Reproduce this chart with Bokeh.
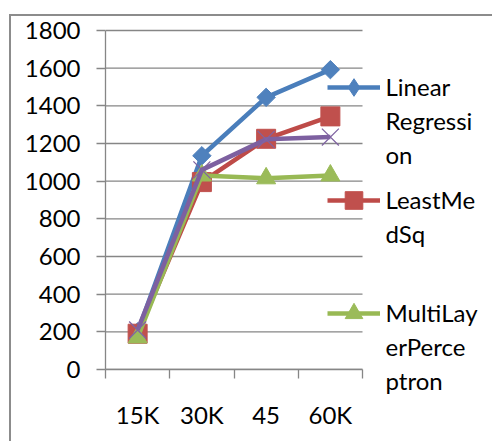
import math
from bokeh.plotting import figure
from bokeh.models import (FixedTicker, Legend, LegendItem, LinearAxis, Range1d)
from bokeh.core.properties import value
from bokeh.embed import file_html
from bokeh.resources import INLINE

# ---- data ----
categories = ["15K", "30K", "45", "60K"]
linear_regression = [200, 1135, 1445, 1592]
least_med_sq = [190, 995, 1225, 1344]
multilayer_perceptron = [170, 1030, 1015, 1030]
fourth_series = [210, 1060, 1222, 1234]
y_ticks = [0, 200, 400, 600, 800, 1000, 1200, 1400, 1600, 1800]
legend_names = ["Linear\nRegressi\non", "LeastMe\ndSq", "MultiLay\nerPerce\nptron"]

FONT = "Lato"
FS = "24px"
GRID = "#868686"
TXT = "#000000"

# page geometry (pixels in the 494x443 window)
OX, OY = 11, 16                 # canvas offset caused by the chart-area border
FW, FH = 494 - OX, 443 - OY     # figure size
CAT_L, CAT_R = 105, 362         # category axis extent on the page
Y0, Y1800 = 369, 30             # page y of 0 and 1800
FRAME_R, FRAME_T = 381, 26      # frame extends a bit so the legend is not clipped
YMAX = 1800

ppu_x = (CAT_R - CAT_L) / len(categories)
ppu_y = (Y0 - Y1800) / YMAX

def page_y(py):
    return (Y0 - py) / ppu_y

x = [i + 0.5 for i in range(len(categories))]

p = figure(width=FW, height=FH, output_backend="svg", toolbar_location=None,
           x_range=Range1d(0, (FRAME_R - CAT_L) / ppu_x),
           y_range=Range1d(0, page_y(FRAME_T)),
           min_border_left=CAT_L - OX, min_border_right=494 - FRAME_R,
           min_border_top=FRAME_T - OY, min_border_bottom=443 - Y0)
p.styles = {"margin-left": "9px", "margin-top": "14px",
            "border-left": "2px solid #8c8c8c", "border-top": "2px solid #8c8c8c"}
p.outline_line_color = None
p.background_fill_color = "white"
p.border_fill_color = "white"

# horizontal gridlines, limited to the category extent
p.xgrid.visible = False
p.ygrid.visible = False
p.segment(x0=[0] * len(y_ticks), x1=[len(categories)] * len(y_ticks),
          y0=y_ticks, y1=y_ticks, line_color=GRID, line_width=1.3)

# y axis
p.yaxis.ticker = FixedTicker(ticks=y_ticks)
p.yaxis.bounds = (0, YMAX)
p.yaxis.axis_line_color = GRID
p.yaxis.axis_line_width = 1.3
p.yaxis.major_tick_line_color = GRID
p.yaxis.major_tick_line_width = 1.3
p.yaxis.major_tick_out = 9
p.yaxis.major_tick_in = 0
p.yaxis.minor_tick_line_color = None
p.yaxis.major_label_standoff = 16
p.yaxis.major_label_text_font = FONT
p.yaxis.major_label_text_font_size = FS
p.yaxis.major_label_text_color = TXT

# x axis: labels at category centres, tick marks between categories
p.xaxis.ticker = FixedTicker(ticks=x, minor_ticks=list(range(len(categories) + 1)))
p.xaxis.major_label_overrides = {xi: c for xi, c in zip(x, categories)}
p.xaxis.bounds = (0, len(categories))
p.xaxis.axis_line_color = GRID
p.xaxis.axis_line_width = 1.3
p.xaxis.major_tick_line_color = None
p.xaxis.major_tick_out = 0
p.xaxis.major_tick_in = 0
p.xaxis.minor_tick_line_color = GRID
p.xaxis.minor_tick_line_width = 1.3
p.xaxis.minor_tick_out = 9
p.xaxis.minor_tick_in = 0
p.xaxis.major_label_standoff = 21
p.xaxis.major_label_text_font = FONT
p.xaxis.major_label_text_font_size = FS
p.xaxis.major_label_text_color = TXT

series = [
    (linear_regression, "#4A7EBB", "#4F81BD", "square", 13, math.pi / 4, "diamond"),
    (least_med_sq, "#BE4B48", "#C0504D", "square", 19, 0, "square"),
    (multilayer_perceptron, "#98B954", "#9BBB59", "triangle", 19, 0, "triangle"),
    (fourth_series, "#7D60A0", "#8064A2", "x", 24, 0, "x"),
]

legend_renderers = []
for vals, lc, mc, marker, size, ang, leg_marker in series:
    lr = p.line(x, vals, line_color=lc, line_width=4.5, line_join="round")
    if marker == "x":
        sr = p.scatter(x, vals, marker=marker, size=size, line_color=mc,
                       line_width=1.3, fill_color=None)
    else:
        sr = p.scatter(x, vals, marker=marker, size=size, angle=ang,
                       fill_color=mc, line_color=mc, line_width=1)
    if leg_marker != marker:
        # legend sample shape (rotation is not applied in legends)
        sr = p.scatter(x, vals, marker=leg_marker, size=size, fill_color=mc,
                       line_color=mc, visible=False)
    legend_renderers.append([lr, sr])

# legend samples; the wrapped legend text is placed on a right-hand axis
GLYPH_H = 44
items = [LegendItem(label=value(" "), renderers=legend_renderers[i]) for i in range(3)]
legend = Legend(items=items, location=(327 - CAT_L, Y0 - 335), orientation="vertical",
                glyph_width=53, glyph_height=GLYPH_H, spacing=113 - GLYPH_H,
                padding=0, margin=0, label_standoff=0, label_width=0, label_height=0,
                label_text_font_size="1px", border_line_color=None,
                background_fill_alpha=0, click_policy="none")
p.add_layout(legend, "center")

legend_ticks = [round(page_y(py)) for py in (120, 216.5, 346)]
leg_axis = LinearAxis(ticker=FixedTicker(ticks=legend_ticks),
                      major_label_overrides={t: n for t, n in zip(legend_ticks, legend_names)})
leg_axis.axis_line_color = None
leg_axis.major_tick_line_color = None
leg_axis.minor_tick_line_color = None
leg_axis.major_tick_out = 0
leg_axis.major_tick_in = 0
leg_axis.major_label_standoff = 385 - FRAME_R
leg_axis.major_label_text_font = FONT
leg_axis.major_label_text_font_size = FS
leg_axis.major_label_text_color = TXT
leg_axis.major_label_text_line_height = 1.17
p.add_layout(leg_axis, "right")

open("out.html", "w").write(file_html(p, INLINE))
